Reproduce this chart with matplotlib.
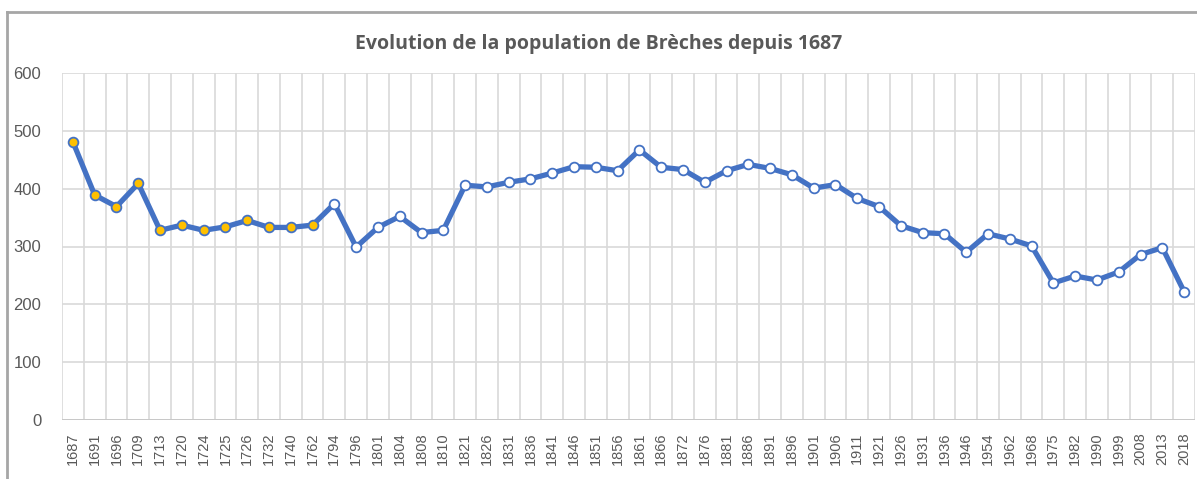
import matplotlib
matplotlib.use("Agg")
import matplotlib.pyplot as plt
from matplotlib.lines import Line2D

years = ["1687", "1691", "1696", "1709", "1713", "1720", "1724", "1725", "1726", "1732",
         "1740", "1762", "1794", "1796", "1801", "1804", "1808", "1810", "1821", "1826",
         "1831", "1836", "1841", "1846", "1851", "1856", "1861", "1866", "1872", "1876",
         "1881", "1886", "1891", "1896", "1901", "1906", "1911", "1921", "1926", "1931",
         "1936", "1946", "1954", "1962", "1968", "1975", "1982", "1990", "1999", "2008",
         "2013", "2018"]
population = [481, 389, 369, 409, 328, 337, 328, 334, 345, 333,
              333, 337, 374, 299, 333, 352, 324, 328, 406, 403,
              411, 417, 427, 438, 437, 431, 467, 437, 433, 411,
              431, 442, 435, 424, 401, 407, 383, 369, 336, 324,
              322, 290, 322, 313, 301, 237, 249, 242, 256, 286,
              298, 222]
n_old = 12  # first points (up to 1762) drawn with yellow markers

title = "Evolution de la population de Brèches depuis 1687"
yticks = [0, 100, 200, 300, 400, 500, 600]

blue = "#4472C4"
yellow = "#FFC000"
grid_c = "#D9D9D9"
text_c = "#595959"

fig = plt.figure(figsize=(11.97, 4.79), dpi=100)
ax = fig.add_axes([62/1197, 59/479, (1195-62)/1197, (420-73)/479])

x = list(range(len(years)))
ax.plot(x, population, color=blue, lw=3.8, zorder=3, solid_joinstyle="round")
ax.plot(x[:n_old], population[:n_old], ls="none", marker="o", ms=7,
        mfc=yellow, mec=blue, mew=1.3, zorder=4)
ax.plot(x[n_old:], population[n_old:], ls="none", marker="o", ms=7,
        mfc="white", mec=blue, mew=1.3, zorder=4)

ax.set_xlim(-0.5, len(years) - 0.5)
ax.set_ylim(0, 600)
ax.set_yticks(yticks)
ax.set_yticklabels([str(v) for v in yticks], fontsize=12, color=text_c,
                   family="Liberation Sans")
ax.set_xticks(x)
ax.set_xticklabels(years, rotation=90, fontsize=10.5, color=text_c,
                   family="Liberation Sans")
ax.tick_params(axis="both", length=0)
ax.tick_params(axis="y", pad=15)
ax.tick_params(axis="x", pad=9)

# grid: horizontal at y ticks, vertical between categories
for v in yticks:
    ax.axhline(v, color=grid_c, lw=1.2, zorder=1)
for i in range(len(years) + 1):
    ax.axvline(i - 0.5, color=grid_c, lw=1.2, zorder=1)
for s in ax.spines.values():
    s.set_visible(False)
ax.axhline(0, color="#C8C8C8", lw=1.4, zorder=2)

fig.text(0.5, 1 - 44/479, title, ha="center", va="center", fontsize=14,
         fontweight="bold", color=text_c, family="Open Sans")

# chart area border (left and top visible)
fig.add_artist(Line2D([7/1197, 7/1197], [0, 1 - 12/479], transform=fig.transFigure,
                      color="#A6A6A6", lw=2))
fig.add_artist(Line2D([7/1197, 1], [1 - 12/479, 1 - 12/479], transform=fig.transFigure,
                      color="#A6A6A6", lw=2))

fig.savefig("out.png", dpi=100, facecolor="white")
